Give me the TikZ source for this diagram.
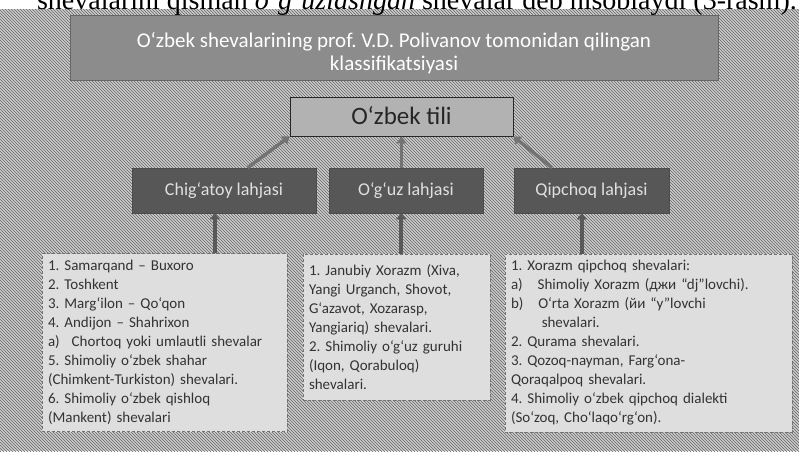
\documentclass[tikz,border=0pt]{standalone}
\usepackage{fontspec}
\setmainfont{Carlito}
\newfontfamily\bookfont{Liberation Serif}
\usetikzlibrary{patterns,arrows.meta}
\frenchspacing
\tikzset{
  titlebox/.style={fill=black!45, draw=black!60, line width=0.6pt, inner sep=0pt},
  titletext/.style={text=white, align=center, inner sep=0pt, font=\fontsize{21}{23}\selectfont},
  rootbox/.style={fill=black!30, draw=black!85, line width=0.8pt, text=black!85, inner sep=0pt,
    font=\fontsize{25}{28}\selectfont},
  lahjabox/.style={fill=black!66, draw=black!70, line width=0.5pt, text=white!88!black, inner sep=0pt,
    font=\fontsize{18}{20}\selectfont},
  listbox/.style={fill=black!13, draw=black!55, densely dashed, line width=0.6pt, text=black!80,
    align=left, inner xsep=6pt, inner ysep=0pt, font=\fontsize{15}{19}\selectfont},
  uparrow/.style={draw=black!55, line width=3.5pt, -{Triangle[length=7pt,width=10pt]}},
  lowarrow/.style={draw=black!65, line width=4pt, -{Triangle[length=6pt,width=10pt]}}
}
\begin{document}
\begin{tikzpicture}[x=1pt,y=-1pt]
\useasboundingbox (0,0) rectangle (799,451);
\begin{scope}
\clip (0,0) rectangle (799,451);
\fill[black!20] (0,0) rectangle (799,451);
\fill[pattern=north west lines, pattern color=black!60] (0,0) rectangle (799,451);
\fill[white] (0,0) rectangle (799,9);
\node[anchor=base east, inner sep=0pt, font=\bookfont\fontsize{28}{28}\selectfont] (booktext) at (797,9)
  {shevalarini qisman \textit{o‘g‘uzlashgan} shevalar deb hisoblaydi (3-rasm).};
\end{scope}

\node[titlebox, minimum width=648, minimum height=65] (title) at (394,47.5) {};
\node[titletext] (titlelabel) at (394,53)
  {O‘zbek shevalarining prof. V.D. Polivanov tomonidan qilingan\\klassifikatsiyasi};

\node[rootbox, minimum width=223, minimum height=39] (root) at (401.5,116.5) {\raisebox{2pt}{O‘zbek tili}};

\node[lahjabox, minimum width=184, minimum height=45] (chig) at (224,190.5) {Chig‘atoy lahjasi};
\node[lahjabox, minimum width=154, minimum height=45] (oguz) at (406,190.5) {O‘g‘uz lahjasi};
\node[lahjabox, minimum width=155, minimum height=45] (qip) at (591.5,190.5) {Qipchoq lahjasi};

\node[listbox, text width=233, minimum height=178] (left) at (164.5,342.5)
  {1. Samarqand -- Buxoro\\
   2. Toshkent\\
   3. Marg‘ilon -- Qo‘qon\\
   4. Andijon -- Shahrixon\\
   a)\hspace{0.8em}Chortoq yoki umlautli shevalar\\
   5. Shimoliy o‘zbek shahar\\
   (Chimkent-Turkiston) shevalari.\\
   6. Shimoliy o‘zbek qishloq\\
   (Mankent) shevalari};

\node[listbox, text width=175, minimum height=146] (mid) at (396.5,327)
  {1. Janubiy Xorazm (Xiva,\\
   Yangi Urganch, Shovot,\\
   G‘azavot, Xozarasp,\\
   Yangiariq) shevalari.\\
   2. Shimoliy o‘g‘uz guruhi\\
   (Iqon, Qorabuloq)\\
   shevalari.};

\node[listbox, text width=275, minimum height=178] (right) at (648.5,343)
  {1. Xorazm qipchoq shevalari:\\
   a)\hspace{1em}Shimoliy Xorazm (джи “dj”lovchi).\\
   b)\hspace{1em}O‘rta Xorazm (йи “y”lovchi\\
   \hspace*{2.05em}shevalari.\\
   2. Qurama shevalari.\\
   3. Qozoq-nayman, Farg‘ona-\\
   Qoraqalpoq shevalari.\\
   4. Shimoliy o‘zbek qipchoq dialekti\\
   (So‘zoq, Cho‘laqo‘rg‘on).};

\draw[uparrow] (chig.44) -- (root.south west);
\draw[uparrow] (oguz.north -| root.south) -- (root.south);
\draw[uparrow] (qip.150) -- (root.south east);

\draw[lowarrow] (left.north -| chig.248) -- (chig.248);
\draw[lowarrow] (mid.north -| oguz.258) -- (oguz.258);
\draw[lowarrow] (right.north -| qip.247) -- (qip.247);
\end{tikzpicture}
\end{document}
